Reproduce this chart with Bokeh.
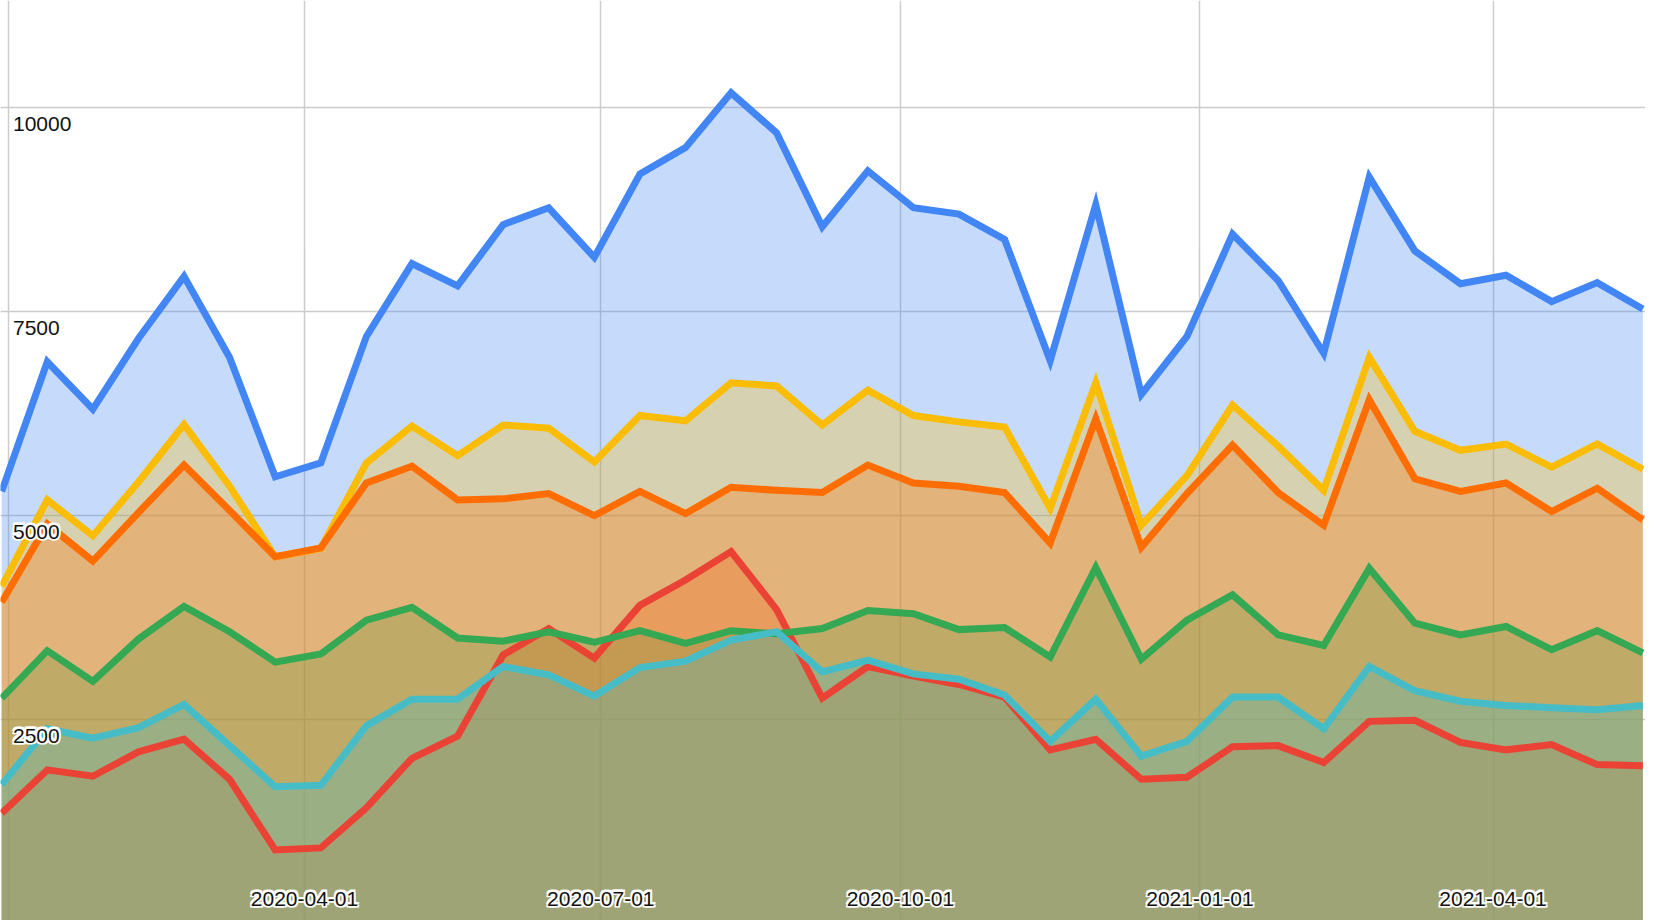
from datetime import datetime, timedelta
import pandas as pd
from bokeh.plotting import figure
from bokeh.models import FixedTicker, Range1d
from bokeh.core.properties import value
from bokeh.embed import file_html
from bokeh.resources import INLINE

# ---------------- data ----------------
dates = pd.date_range("2019-12-30", periods=37, freq="14D")

blue = [5291, 6880, 6299, 7164, 7926, 6932, 5470, 5640, 7190, 8082, 7810, 8560,
        8766, 8159, 9180, 9503, 10175, 9684, 8534, 9218, 8766, 8689, 8379, 6893,
        8805, 6479, 7190, 8443, 7875, 6983, 9141, 8237, 7836, 7939, 7616, 7849, 7526]
red = [1350, 1880, 1802, 2100, 2255, 1764, 898, 924, 1415, 2022, 2293, 3288,
       3611, 3249, 3895, 4205, 4554, 3844, 2758, 3146, 3030, 2926, 2771, 2125,
       2255, 1764, 1789, 2164, 2177, 1970, 2474, 2487, 2216, 2125, 2190, 1944, 1931]
yellow = [4128, 5187, 4748, 5407, 6110, 5355, 4490, 4593, 5640, 6092, 5730, 6105,
          6066, 5653, 6221, 6156, 6622, 6583, 6105, 6531, 6221, 6143, 6079, 5084,
          6622, 4877, 5485, 6350, 5846, 5304, 6932, 6027, 5795, 5872, 5588, 5872, 5562]
green = [2758, 3340, 2965, 3482, 3882, 3572, 3200, 3300, 3714, 3870, 3495, 3456,
         3572, 3443, 3585, 3430, 3585, 3547, 3611, 3831, 3792, 3598, 3624, 3262,
         4360, 3236, 3714, 4025, 3534, 3404, 4348, 3676, 3534, 3637, 3353, 3585, 3314]
orange = [3934, 4890, 4438, 5032, 5614, 5058, 4490, 4600, 5394, 5601, 5187, 5200,
          5265, 4994, 5291, 5019, 5342, 5304, 5278, 5614, 5394, 5355, 5278, 4658,
          6182, 4606, 5265, 5859, 5278, 4877, 6415, 5446, 5291, 5394, 5045, 5330, 4942]
cyan = [1699, 2384, 2267, 2397, 2681, 2177, 1673, 1690, 2422, 2746, 2746, 3146,
        3043, 2784, 3133, 3211, 3469, 3572, 3081, 3224, 3056, 2991, 2797, 2229,
        2746, 2048, 2229, 2771, 2771, 2384, 3146, 2849, 2720, 2668, 2642, 2616, 2668]

series = [
    ("blue", blue, "#4285F4"),
    ("red", red, "#EA4335"),
    ("yellow", yellow, "#FBBC04"),
    ("green", green, "#34A853"),
    ("orange", orange, "#FF6D01"),
    ("cyan", cyan, "#46BDC6"),
]

x_tick_dates = ["2020-01-01", "2020-04-01", "2020-07-01", "2020-10-01", "2021-01-01", "2021-04-01"]
x_tick_labels = ["", "2020-04-01", "2020-07-01", "2020-10-01", "2021-01-01", "2021-04-01"]
y_ticks = [2500, 5000, 7500, 10000]
y_tick_labels = ["2500", "5000", "7500", "10000"]

# ---------------- layout ----------------
W, H = 1645, 920
px_per_day = 3.2562
x0 = datetime(2020, 1, 1) + timedelta(days=(0 - 7.7) / px_per_day)
x1 = x0 + timedelta(days=W / px_per_day)
px_per_unit = 204.06 / 2500
zero_y = 922.8
y0 = (zero_y - H) / px_per_unit
y1 = zero_y / px_per_unit

p = figure(width=W, height=H, x_axis_type="datetime",
           x_axis_location=None, y_axis_location=None,
           x_range=Range1d(x0, x1), y_range=Range1d(y0, y1),
           output_backend="svg", toolbar_location=None,
           min_border=0, min_border_left=0, min_border_right=0,
           min_border_top=0, min_border_bottom=0)
p.outline_line_color = None
p.background_fill_color = "white"
p.border_fill_color = "white"

tick_ms = [pd.Timestamp(d).value // 10**6 for d in x_tick_dates]
p.xgrid.ticker = FixedTicker(ticks=tick_ms)
p.ygrid.ticker = FixedTicker(ticks=y_ticks)
for g in (p.xgrid, p.ygrid):
    g.grid_line_color = "#cccccc"
    g.grid_line_width = 1.5

for name, vals, col in series:
    p.varea(x=dates, y1=0, y2=vals, fill_color=col, fill_alpha=0.3)
for name, vals, col in series:
    p.line(x=dates, y=vals, line_color=col, line_width=7, line_join="miter")

font = value("Liberation Sans")
xl = [pd.Timestamp(d) for d, l in zip(x_tick_dates, x_tick_labels) if l]
xt = [l for l in x_tick_labels if l]

# white halo (a few offset copies), then dark text on top
offsets = [(-1.3, -1.3), (1.3, -1.3), (-1.3, 1.3), (1.3, 1.3), (0, 0)]
for dx, dy in offsets:
    halo = (dx, dy) != (0, 0)
    kw = dict(text_font=font, text_font_size="21px")
    if halo:
        kw.update(text_color="white", text_outline_color="white")
    else:
        kw.update(text_color="#111111")
    p.text(x=[x0] * len(y_ticks), y=y_ticks, text=y_tick_labels,
           text_align="left", text_baseline="top",
           x_offset=12.5 + dx, y_offset=9.5 + dy, **kw)
    p.text(x=xl, y=[y0] * len(xl), text=xt,
           text_align="center", text_baseline="middle",
           x_offset=dx, y_offset=-22 + dy, **kw)

open("out.html", "w").write(file_html(p, INLINE))
